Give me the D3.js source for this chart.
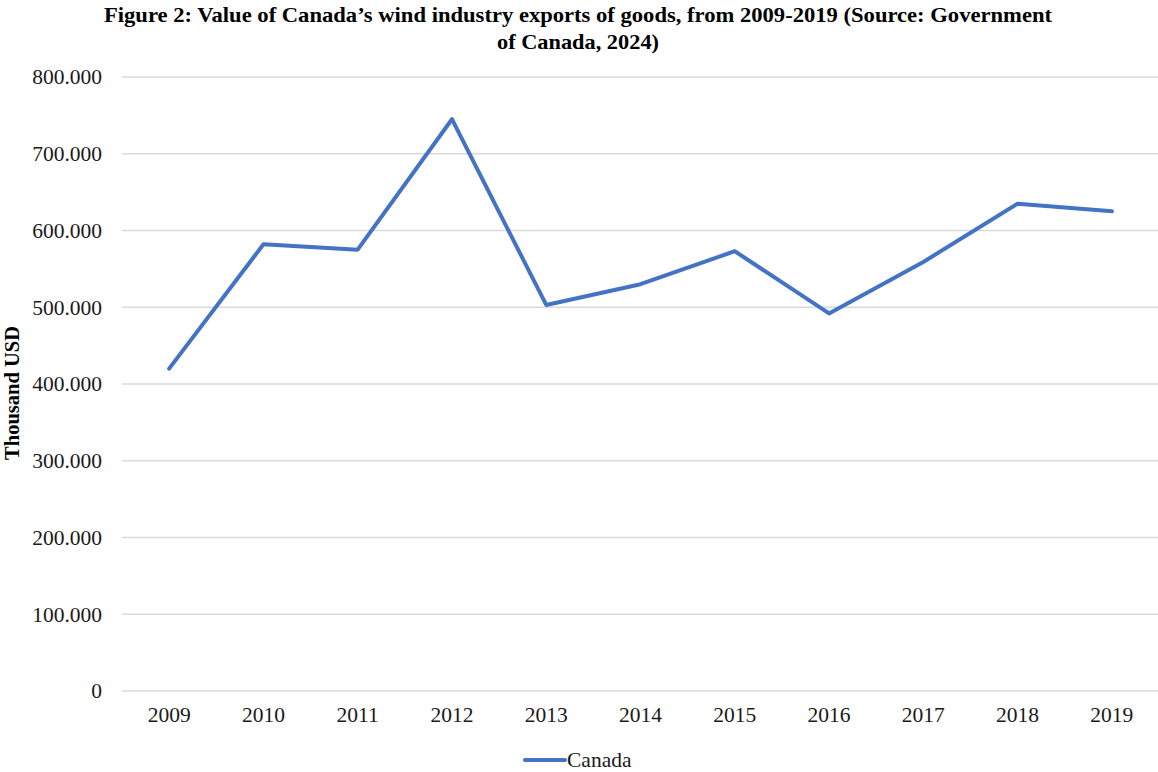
<!DOCTYPE html>
<html>
<head>
<meta charset="utf-8">
<script src="https://cdn.jsdelivr.net/npm/d3@7"></script>
<style>
  body { margin: 0; background: #fff; }
  svg text { font-family: "Liberation Serif", "Times New Roman", serif; }
</style>
</head>
<body>
<svg id="chart"></svg>
<script>
const years = ["2009", "2010", "2011", "2012", "2013", "2014", "2015", "2016", "2017", "2018", "2019"];
const canada = [420, 582, 575, 745, 503, 530, 573, 492, 559, 635, 625];
const yTicks = [0, 100, 200, 300, 400, 500, 600, 700, 800];
const titleLines = [
    "Figure 2: Value of Canada\u2019s wind industry exports of goods, from 2009-2019 (Source: Government",
    "of Canada, 2024)"
];

const W = 1158, H = 772;
const margin = { top: 77, right: -1, bottom: 81, left: 122 };
const width = W - margin.left - margin.right;
const height = H - margin.top - margin.bottom;

const root = d3.select("#chart").attr("width", W).attr("height", H);
const svg = root.append("g")
    .attr("transform", "translate(" + margin.left + "," + margin.top + ")");

const x = d3.scaleBand().domain(years).range([0, width]);
const y = d3.scaleLinear().domain([0, 800]).range([height, 0]);

// grid lines
svg.append("g")
    .selectAll("line")
    .data(yTicks)
    .join("line")
    .attr("x1", 0).attr("x2", width)
    .attr("y1", d => y(d)).attr("y2", d => y(d))
    .attr("stroke", "#d9d9d9")
    .attr("stroke-width", 1.5);

// y axis labels
const yAxis = svg.append("g")
    .call(d3.axisLeft(y).tickValues(yTicks).tickSize(0).tickPadding(20)
        .tickFormat(d => d === 0 ? "0" : d + ".000"));
yAxis.select(".domain").remove();
yAxis.selectAll("text")
    .attr("font-family", "Liberation Serif, Times New Roman, serif")
    .attr("font-size", 21.5)
    .attr("fill", "#1a1a1a");

// x axis labels
const xAxis = svg.append("g")
    .attr("transform", "translate(0," + height + ")")
    .call(d3.axisBottom(x).tickSize(0).tickPadding(16));
xAxis.select(".domain").remove();
xAxis.selectAll("text")
    .attr("font-family", "Liberation Serif, Times New Roman, serif")
    .attr("font-size", 21.5)
    .attr("fill", "#1a1a1a");

// the line
const line = d3.line()
    .x((d, i) => x(years[i]) + x.bandwidth() / 2)
    .y(d => y(d));

svg.append("path")
    .datum(canada)
    .attr("d", line)
    .attr("fill", "none")
    .attr("stroke", "#4472c4")
    .attr("stroke-width", 4)
    .attr("stroke-linejoin", "round")
    .attr("stroke-linecap", "round");

// title
root.append("g")
    .selectAll("text")
    .data(titleLines)
    .join("text")
    .attr("x", 578)
    .attr("y", (d, i) => 22 + i * 27)
    .attr("text-anchor", "middle")
    .attr("font-weight", "bold")
    .attr("font-size", 21)
    .attr("fill", "#000")
    .attr("textLength", (d, i) => i === 0 ? 948 : 162)
    .attr("lengthAdjust", "spacingAndGlyphs")
    .text(d => d);

// y axis title
root.append("text")
    .attr("transform", "translate(19,393) rotate(-90)")
    .attr("text-anchor", "middle")
    .attr("font-weight", "bold")
    .attr("font-size", 20.5)
    .attr("fill", "#000")
    .text("Thousand USD");

// legend
const legend = root.append("g").attr("transform", "translate(525,760)");
legend.append("line")
    .attr("x1", 0).attr("x2", 40)
    .attr("stroke", "#4472c4")
    .attr("stroke-width", 4)
    .attr("stroke-linecap", "round");
legend.append("text")
    .attr("x", 42).attr("y", 7)
    .attr("font-size", 21.5)
    .attr("fill", "#1a1a1a")
    .text("Canada");
</script>
</body>
</html>
